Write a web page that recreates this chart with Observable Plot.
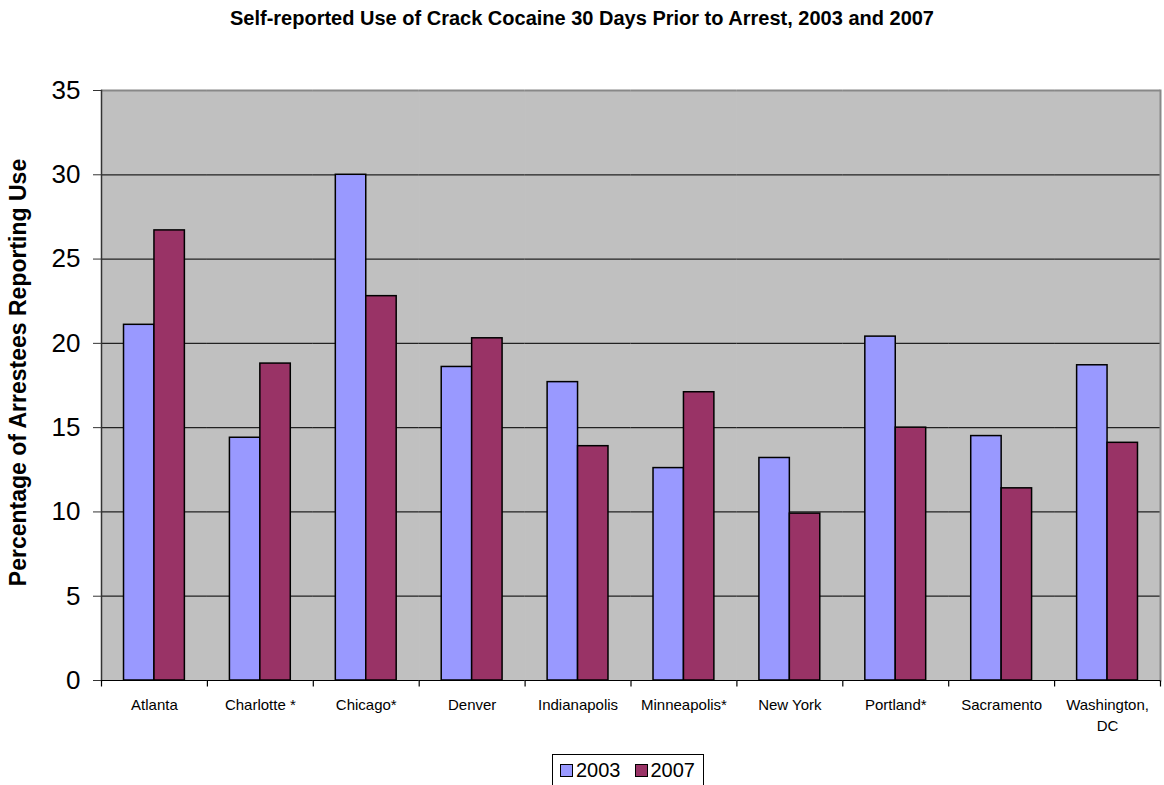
<!DOCTYPE html>
<html>
<head>
<meta charset="utf-8">
<script src="https://cdn.jsdelivr.net/npm/d3@7"></script>
<script src="https://cdn.jsdelivr.net/npm/@observablehq/plot@0.6"></script>
<style>
  html, body { margin: 0; padding: 0; background: #fff; }
  body { width: 1164px; height: 785px; position: relative; overflow: hidden; font-family: "Liberation Sans", Arial, sans-serif; }
  #title { position: absolute; top: 7px; left: 0; width: 1164px; text-align: center; font-weight: bold; font-size: 20px; color: #000; }
  #chart { position: absolute; top: 0; left: 0; }
  #legend { position: absolute; left: 552px; top: 754px; height: 36px; padding: 0 8px 4px 7px; border: 1px solid #000; background: #fff; display: flex; align-items: center; gap: 14px; font-size: 20px; color: #000; box-sizing: border-box; white-space: nowrap; }
  #legend .sw { width: 11px; height: 11px; border: 1.5px solid #000; display: inline-block; flex: none; }
  #legend .item { display: flex; align-items: center; gap: 3px; flex: none; }
</style>
</head>
<body>
<div id="title"></div>
<div id="chart"></div>
<div id="legend"></div>
<script>
const titleText = "Self-reported Use of Crack Cocaine 30 Days Prior to Arrest, 2003 and 2007";
const yLabel = "Percentage of Arrestees Reporting Use";
const cities = ["Atlanta", "Charlotte", "Chicago", "Denver", "Indianapolis", "Minneapolis", "New York", "Portland", "Sacramento", "Washington, DC"];
const cityLabels = ["Atlanta", "Charlotte *", "Chicago*", "Denver", "Indianapolis", "Minneapolis*", "New York", "Portland*", "Sacramento", "Washington,\nDC"];
const years = ["2003", "2007"];
const values2003 = [21.1, 14.4, 30.0, 18.6, 17.7, 12.6, 13.2, 20.4, 14.5, 18.7];
const values2007 = [26.7, 18.8, 22.8, 20.3, 13.9, 17.1, 9.9, 15.0, 11.4, 14.1];
const colors = ["#9999FF", "#993366"];
const yTicks = [0, 5, 10, 15, 20, 25, 30, 35];
const gridTicks = [5, 10, 15, 20, 25, 30];

const data = cities.flatMap((c, i) => [
  {city: c, year: years[0], value: values2003[i]},
  {city: c, year: years[1], value: values2007[i]}
]);

const tickSymbol = {draw(ctx) { ctx.moveTo(0, 0); ctx.lineTo(0, 6); }};

document.getElementById("title").textContent = titleText;

const chart = Plot.plot({
  width: 1164,
  height: 750,
  marginTop: 90,
  marginBottom: 70,
  marginLeft: 101,
  marginRight: 4,
  style: {fontFamily: "'Liberation Sans', Arial, sans-serif", background: "transparent", color: "#000"},
  fx: {domain: cities, padding: 0, round: false, label: null},
  x: {domain: years, paddingInner: 0, paddingOuter: 0.74, round: false, axis: null},
  y: {domain: [0, 35], label: null},
  color: {domain: years, range: colors},
  marks: [
    Plot.frame({fill: "#c0c0c0", stroke: "#c0c0c0", strokeWidth: 1}),
    Plot.ruleY(gridTicks, {stroke: "#222", strokeWidth: 1.2}),
    Plot.ruleY([35], {stroke: "#888", strokeWidth: 2}),
    Plot.frame({anchor: "right", facetAnchor: "right", stroke: "#888", strokeWidth: 2}),
    Plot.barY(data, {fx: "city", x: "year", y: "value", fill: "year", stroke: "#000", strokeWidth: 1.5}),
    Plot.frame({anchor: "left", facetAnchor: "left", stroke: "#333", strokeWidth: 1.5}),
    Plot.ruleY([0], {stroke: "#000", strokeWidth: 1.2}),
    Plot.dot([0], {frameAnchor: "bottom-left", symbol: tickSymbol, stroke: "#000", fill: "none", strokeWidth: 1.2}),
    Plot.dot([0], {frameAnchor: "bottom-right", facetAnchor: "right", symbol: tickSymbol, stroke: "#000", fill: "none", strokeWidth: 1.2}),
    Plot.axisY({ticks: yTicks, tickSize: 8, tickPadding: 13, fontSize: 26, label: null, stroke: "#333"}),
    Plot.axisY({ticks: [], tickSize: 0, label: yLabel, labelAnchor: "center", labelOffset: 92, labelArrow: "none", fontSize: 23, fontWeight: "bold"}),
    Plot.axisFx({anchor: "bottom", tickSize: 0, tickPadding: 15, fontSize: 15, label: null, tickFormat: c => cityLabels[cities.indexOf(c)], lineHeight: 1.4})
  ]
});
document.getElementById("chart").appendChild(chart);

// nudge the rotated y-axis title slightly upward, as in the reference
const lbl = chart.querySelector('g[aria-label="y-axis label"] text');
if (lbl) lbl.setAttribute("dx", "13");

const legend = document.getElementById("legend");
years.forEach((y, i) => {
  const item = document.createElement("span");
  item.className = "item";
  const sw = document.createElement("span");
  sw.className = "sw";
  sw.style.background = colors[i];
  const tx = document.createElement("span");
  tx.textContent = y;
  item.appendChild(sw);
  item.appendChild(tx);
  legend.appendChild(item);
});
</script>
</body>
</html>
